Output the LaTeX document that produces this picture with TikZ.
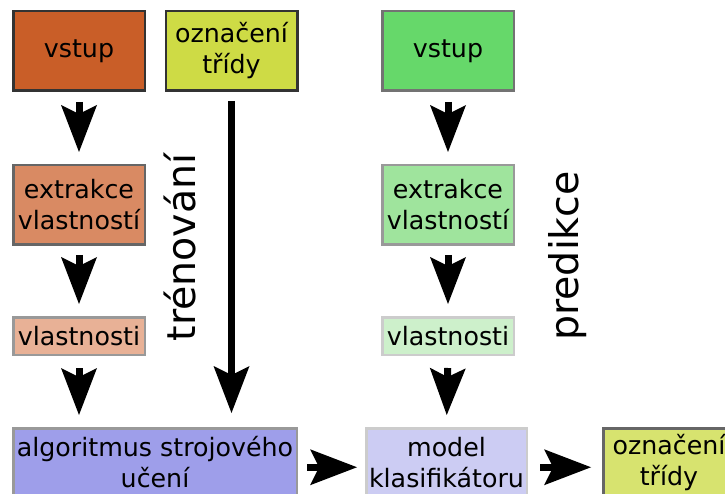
\documentclass[tikz,border=0pt]{standalone}
\usepackage{fontspec}
\setmainfont{DejaVu Sans}
\usetikzlibrary{arrows.meta}
\definecolor{cA}{HTML}{C95E28}
\definecolor{cB}{HTML}{CEDB45}
\definecolor{cC}{HTML}{66D86A}
\definecolor{cD}{HTML}{D98A63}
\definecolor{cE}{HTML}{E8B196}
\definecolor{cF}{HTML}{9FE49D}
\definecolor{cG}{HTML}{CDF0CB}
\definecolor{cH}{HTML}{9E9EEA}
\definecolor{cI}{HTML}{CCCCF3}
\definecolor{cJ}{HTML}{D7E36F}
\begin{document}
\begin{tikzpicture}[x=1pt,y=-1pt,
  box/.style={draw, line width=2.5pt, inner sep=0pt, align=center,
    minimum width=131.5pt, minimum height=79.5pt,
    font=\fontsize{25.3}{31}\selectfont},
  smallbox/.style={box, minimum height=37.5pt},
  lowbox/.style={box, minimum height=68pt},
  fat/.style={line width=7pt, -{Stealth[length=47pt,width=36pt,inset=9pt,line width=0pt]}},
  side/.style={rotate=90, anchor=base, inner sep=0pt, font=\fontsize{39.5}{46}\selectfont}]
\useasboundingbox (0,0) rectangle (725,494);
\node[box, fill=cA, draw=black!80] (v1) at (79,51) {vstup};
\node[box, fill=cB, draw=black!80] (o1) at (231.5,51) {označení\\třídy};
\node[box, fill=cC, draw=black!55] (v2) at (448,51) {vstup};
\node[box, fill=cD, draw=black!60] (e1) at (79,205) {extrakce\\vlastností};
\node[smallbox, fill=cE, draw=black!40] (l1) at (79,336) {vlastnosti};
\node[box, fill=cF, draw=black!40] (e2) at (448,205) {extrakce\\vlastností};
\node[smallbox, fill=cG, draw=black!20] (l2) at (448,336) {vlastnosti};
\node[lowbox, fill=cH, draw=black!40, minimum width=283.5pt] (alg) at (155,462.25) {algoritmus strojového\\učení};
\node[lowbox, fill=cI, draw=black!20, minimum width=160.5pt] (mod) at (446.5,462.25) {model\\klasifikátoru};
\node[lowbox, fill=cJ, draw=black!60] (o2) at (669,462.25) {označení\\třídy};
\node[side] (tr) at (195,247.5) {trénování};
\node[side] (pr) at (578,256) {predikce};
\draw[fat, shorten <=10pt, shorten >=12pt] (v1.south) -- (e1.north);
\draw[fat, shorten <=9pt, shorten >=12pt] (e1.south) -- (l1.north);
\draw[fat, shorten <=12pt, shorten >=12pt] (l1.south) -- (l1.south |- alg.north);
\draw[fat, shorten <=9pt, shorten >=14pt] (o1.south) -- (o1.south |- alg.north);
\draw[fat, shorten <=10pt, shorten >=12pt] (v2.south) -- (e2.north);
\draw[fat, shorten <=9pt, shorten >=12pt] (e2.south) -- (l2.north);
\draw[fat, shorten <=12pt, shorten >=12pt] (l2.south) -- (mod.north);
\draw[fat, shorten <=9pt, shorten >=8pt] ([yshift=-5pt]alg.east) -- ([yshift=-5pt]alg.east -| mod.west);
\draw[fat, shorten <=12pt, shorten >=11pt] ([yshift=-5pt]mod.east) -- ([yshift=-5pt]mod.east -| o2.west);
\end{tikzpicture}
\end{document}
